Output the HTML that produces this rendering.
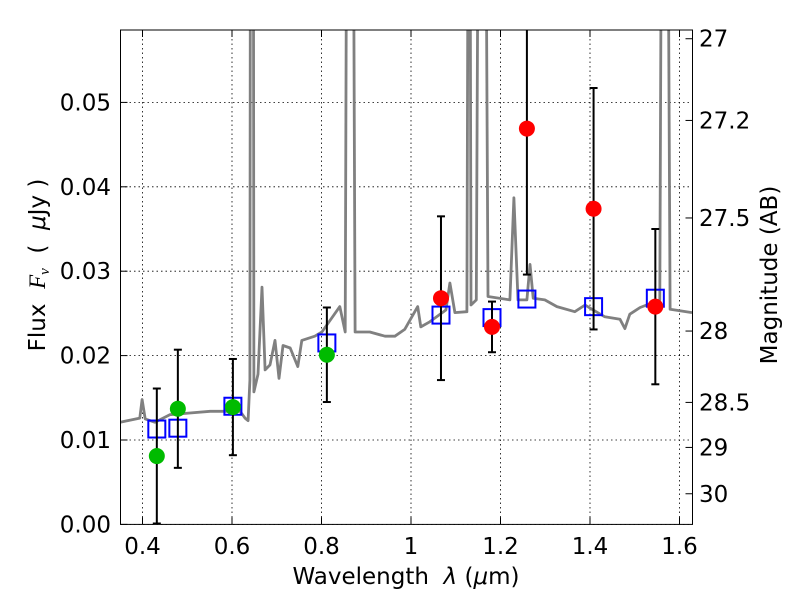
<!DOCTYPE html>
<html><head><meta charset="utf-8"><style>
html,body{margin:0;padding:0;background:#fff;}
svg text{font-family:"DejaVu Sans","Liberation Sans",sans-serif;fill:#000;white-space:pre;}
</style></head><body>
<svg id="chart" width="800" height="600" viewBox="0 0 800 600" xmlns="http://www.w3.org/2000/svg">
<defs><clipPath id="clip"><rect x="120.5" y="30" width="572" height="494.4"/></clipPath></defs>
<g id="grid"></g>
<g id="plot" clip-path="url(#clip)"></g>
<rect x="120.5" y="30" width="572" height="494.4" fill="none" stroke="#000" stroke-width="1"/>
<g id="axes"></g>
<text x="406" y="584" font-size="23" text-anchor="middle">Wavelength&#160;&#160;<tspan font-style="italic">λ</tspan> (<tspan font-style="italic">μ</tspan>m)</text>
<text transform="translate(45,265) rotate(-90)" font-size="23" text-anchor="middle">Flux&#160;&#160;<tspan font-family="Liberation Serif" font-style="italic">F<tspan font-size="15" dy="4">ν</tspan></tspan><tspan dy="-4">&#160;&#160;(&#160;&#160;</tspan><tspan font-style="italic">μ</tspan>Jy )</text>
<text transform="translate(777,275) rotate(-90)" font-size="23" text-anchor="middle">Magnitude (AB)</text>
</svg>
<script>
const specLam=[0.350,0.394,0.399,0.406,0.428,0.461,0.506,0.551,0.618,0.629,0.636,0.640,0.642,0.647,0.649,0.658,0.667,0.674,0.685,0.696,0.705,0.714,0.730,0.747,0.756,0.785,0.801,0.841,0.853,0.859,0.868,0.875,0.908,0.942,0.964,0.986,1.015,1.022,1.042,1.078,1.087,1.098,1.125,1.130,1.134,1.146,1.154,1.163,1.172,1.221,1.230,1.239,1.259,1.266,1.273,1.299,1.326,1.366,1.389,1.404,1.433,1.467,1.478,1.489,1.512,1.556,1.563,1.570,1.579,1.628];
const specFlux=[0.0121,0.0126,0.0148,0.0125,0.0121,0.0130,0.0132,0.0134,0.0134,0.0126,0.0123,0.0171,0.12,0.12,0.0157,0.0178,0.0281,0.0183,0.0189,0.0218,0.0173,0.0212,0.0209,0.0187,0.0218,0.0223,0.0228,0.0258,0.0228,0.12,0.12,0.0228,0.0228,0.0223,0.0223,0.0231,0.0258,0.0234,0.0240,0.0254,0.0286,0.0251,0.0252,0.12,0.0260,0.0266,0.12,0.12,0.0270,0.0266,0.0387,0.0266,0.0266,0.0308,0.0268,0.0266,0.0258,0.0252,0.0260,0.0255,0.0246,0.0243,0.0232,0.0249,0.0257,0.0266,0.12,0.12,0.0255,0.0251];
const greenLam=[0.432,0.479,0.602,0.812];
const greenFlux=[0.0081,0.0137,0.0139,0.0201];
const greenErr=[0.0080,0.0070,0.0057,0.0056];
const redLam=[1.067,1.181,1.259,1.408,1.546];
const redFlux=[0.0268,0.0234,0.0469,0.0374,0.0258];
const redErr=[0.0097,0.0030,0.0173,0.0143,0.0092];
const modelLam=[0.432,0.479,0.602,0.812,1.067,1.181,1.259,1.408,1.546];
const modelFlux=[0.0113,0.0114,0.0140,0.0215,0.0248,0.0245,0.0267,0.0258,0.0268];
const xTicks=[0.4,0.6,0.8,1.0,1.2,1.4,1.6];
const xTickLabels=["0.4","0.6","0.8","1","1.2","1.4","1.6"];
const yTicks=[0,0.01,0.02,0.03,0.04,0.05];
const yTickLabels=["0.00","0.01","0.02","0.03","0.04","0.05"];
const magTicks=[27,27.2,27.5,28,28.5,29,30];
const magTickLabels=["27","27.2","27.5","28","28.5","29","30"];

const NS="http://www.w3.org/2000/svg";
const L=120.5,R=692.5,T=30,B=524.4;
const X=v=>142.5+(v-0.4)*447.5;
const Y=v=>B-v*8440;
const magToFlux=m=>Math.pow(10,(23.9-m)/2.5);
function mk(tag,attrs,parent){const e=document.createElementNS(NS,tag);for(const k in attrs)e.setAttribute(k,attrs[k]);parent.appendChild(e);return e;}
const grid=document.getElementById('grid'),plot=document.getElementById('plot'),axes=document.getElementById('axes');

xTicks.forEach((t,i)=>{
  const g=mk('line',{x1:X(t),x2:X(t),y1:T,y2:B,stroke:'#000','stroke-width':0.8,'stroke-dasharray':'1.5,3'},grid);
  
  
  const a=mk('line',{x1:X(t),x2:X(t),y1:B,y2:B-7,stroke:'#000'},axes);
  
  
  const b=mk('line',{x1:X(t),x2:X(t),y1:T,y2:T+7,stroke:'#000'},axes);
  
  
  const tx=mk('text',{x:X(t),y:554,'font-size':23,'text-anchor':'middle'},axes);
  tx.textContent=xTickLabels[i];
  
  
});
yTicks.forEach((t,i)=>{
  const g=mk('line',{x1:L,x2:R,y1:Y(t),y2:Y(t),stroke:'#000','stroke-width':0.8,'stroke-dasharray':'1.5,3'},grid);
  
  
  const a=mk('line',{x1:L,x2:L+7,y1:Y(t),y2:Y(t),stroke:'#000'},axes);
  
  
  const tx=mk('text',{x:111,y:Y(t)+8,'font-size':23,'text-anchor':'end'},axes);
  tx.textContent=yTickLabels[i];
  
  
});
magTicks.forEach((m,i)=>{
  const y=Y(magToFlux(m));
  const a=mk('line',{x1:R-7,x2:R,y1:y,y2:y,stroke:'#000'},axes);
  
  
  const tx=mk('text',{x:699,y:y+8,'font-size':23,'text-anchor':'start'},axes);
  tx.textContent=magTickLabels[i];
  
  
});

const pts=specLam.map((l,i)=>X(l).toFixed(1)+','+Y(specFlux[i]).toFixed(1)).join(' ');
const sp=mk('polyline',{points:pts,fill:'none',stroke:'#808080','stroke-width':2.8,'stroke-linejoin':'round'},plot);



function errbar(l,f,e,name){
  const x=X(l);
  const v=mk('line',{x1:x,x2:x,y1:Y(f+e),y2:Y(f-e),stroke:'#000','stroke-width':2},plot);
  
  
  [f+e,f-e].forEach(c=>{
    const cap=mk('line',{x1:x-4,x2:x+4,y1:Y(c),y2:Y(c),stroke:'#000','stroke-width':2},plot);
    
    
  });
}
modelLam.forEach((l,i)=>{
  const r=mk('rect',{x:X(l)-8.5,y:Y(modelFlux[i])-8.5,width:17,height:17,fill:'none',stroke:'#0000ff','stroke-width':2},plot);
  
  
});
greenLam.forEach((l,i)=>{
  errbar(l,greenFlux[i],greenErr[i],'green-point');
  const c=mk('circle',{cx:X(l),cy:Y(greenFlux[i]),r:8,fill:'#00bb00'},plot);
  
  
});
redLam.forEach((l,i)=>{
  errbar(l,redFlux[i],redErr[i],'red-point');
  const c=mk('circle',{cx:X(l),cy:Y(redFlux[i]),r:8,fill:'#ff0000'},plot);
  
  
});
</script>
</body></html>
